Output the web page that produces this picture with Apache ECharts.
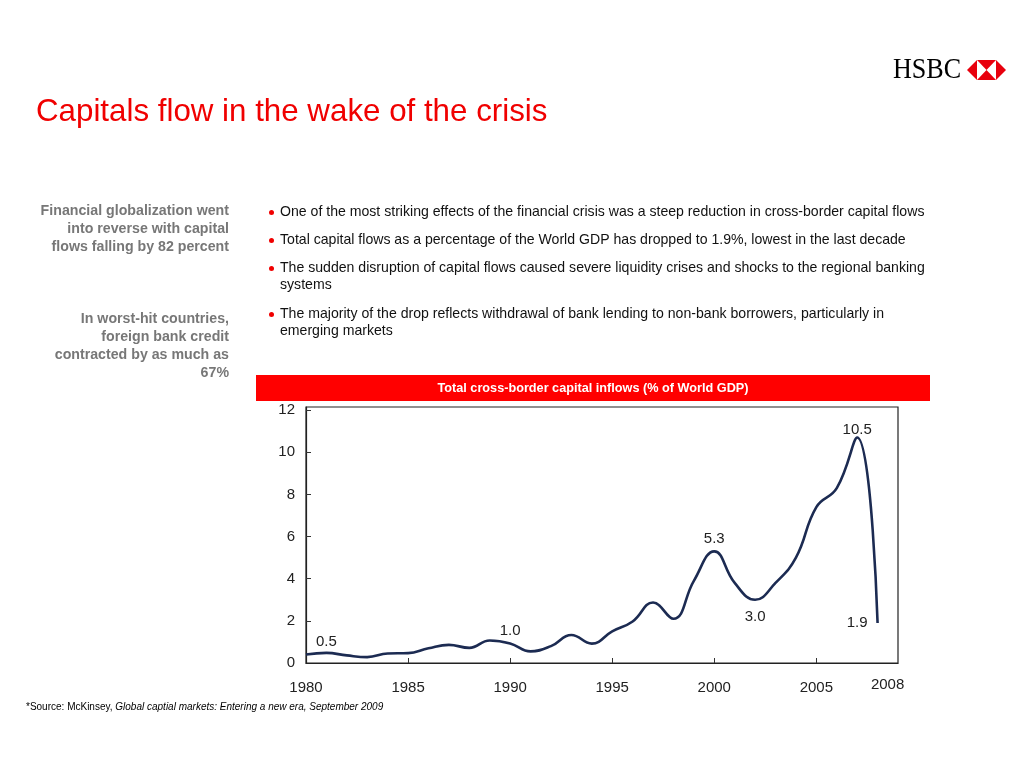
<!DOCTYPE html>
<html>
<head>
<meta charset="utf-8">
<script src="https://cdn.jsdelivr.net/npm/echarts@6/dist/echarts.min.js"></script>
<style>
html,body{margin:0;padding:0;background:#fff;}
#c{width:1024px;height:768px;}
</style>
</head>
<body>
<div id="c"></div>
<script>
// ---- data ----
var years = [1980,1981,1982,1983,1984,1985,1986,1987,1988,1989,1990,1991,1992,1993,1994,1995,1996,1997,1998,1999,2000,2001,2002,2003,2004,2005,2006,2007,2008];
var inflows = [0.4,0.48,0.36,0.28,0.45,0.47,0.7,0.86,0.72,1.07,0.93,0.55,0.8,1.33,0.92,1.5,1.97,2.87,2.1,3.9,5.3,3.8,3.0,3.8,5.0,7.4,8.3,10.7,1.9];
var annotations = [
  {year:1981, text:'0.5', pos:'top', dist:3},
  {year:1990, text:'1.0', pos:'top', dist:4},
  {year:2000, text:'5.3', pos:'top', dist:4},
  {year:2002, text:'3.0', pos:'bottom', dist:9},
  {year:2007, text:'10.5', pos:'top', dist:-1},
  {year:2008, text:'1.9', pos:'left', dist:9}
];
var xLabelValues = [1980,1985,1990,1995,2000,2005,2008];
var xTickValues = [1985,1990,1995,2000,2005];
var yLabelValues = [0,2,4,6,8,10,12];
var yTickValues = [2,4,6,8,10,12];

var titleText = 'Capitals flow in the wake of the crisis';
var sideNotes = [
  'Financial globalization went\ninto reverse with capital\nflows falling by 82 percent',
  'In worst-hit countries,\nforeign bank credit\ncontracted by as much as\n67%'
];
var bullets = [
  'One of the most striking effects of the financial crisis was a steep reduction in cross-border capital flows',
  'Total capital flows as a percentage of the World GDP has dropped to 1.9%, lowest in the last decade',
  'The sudden disruption of capital flows caused severe liquidity crises and shocks to the regional banking\nsystems',
  'The majority of the drop reflects withdrawal of bank lending to non-bank borrowers, particularly in\nemerging markets'
];
var chartHeader = 'Total cross-border capital inflows (% of World GDP)';
var sourcePlain = '*Source: McKinsey, ';
var sourceItalic = 'Global captial markets: Entering a new era, September 2009';

// ---- build ----
var annMap = {};
annotations.forEach(function(a){annMap[a.year]=a;});
var seriesData = years.map(function(y,i){
  var item = {value:[y, inflows[i]]};
  var a = annMap[y];
  if (a) {
    item.label = {show:true, position:a.pos, distance:a.dist, formatter:a.text};
  }
  return item;
});

var SANS = '"Liberation Sans", Arial, sans-serif';
var bulletTops = [204, 232, 260, 306];
var graphics = [];

// HSBC logo
graphics.push({type:'text', x:893, y:70, scaleX:0.87, style:{text:'HSBC', font:'30px "Liberation Serif", "Times New Roman", serif', fill:'#000', verticalAlign:'middle'}});
var red = '#e8000d';
graphics.push({type:'polygon', shape:{points:[[967,70],[977,60],[977,80]]}, style:{fill:red}});
graphics.push({type:'polygon', shape:{points:[[1006,70],[996,60],[996,80]]}, style:{fill:red}});
graphics.push({type:'polygon', shape:{points:[[977,60],[996,60],[986.5,70]]}, style:{fill:red}});
graphics.push({type:'polygon', shape:{points:[[977,80],[996,80],[986.5,70]]}, style:{fill:red}});

// Title
graphics.push({type:'text', x:36, y:112, style:{text:titleText, font:'31.3px ' + SANS, fill:'#f00000', verticalAlign:'middle'}});

// Side notes
graphics.push({type:'text', x:229, y:202, style:{text:sideNotes[0], font:'bold 14.2px ' + SANS, fill:'#777777', align:'right', verticalAlign:'top', lineHeight:18}});
graphics.push({type:'text', x:229, y:310, style:{text:sideNotes[1], font:'bold 14.2px ' + SANS, fill:'#777777', align:'right', verticalAlign:'top', lineHeight:18}});

// Bullets
bullets.forEach(function(b,i){
  graphics.push({type:'circle', shape:{cx:271.5, cy:bulletTops[i]+8.5, r:2.5}, style:{fill:'#f00000'}});
  graphics.push({type:'text', x:280, y:bulletTops[i], style:{text:b, font:'14.1px ' + SANS, fill:'#111', verticalAlign:'top', lineHeight:17}});
});

// Chart header
graphics.push({type:'rect', shape:{x:256, y:375, width:674, height:26}, style:{fill:'#ff0000'}});
graphics.push({type:'text', x:593, y:388, style:{text:chartHeader, font:'bold 12.7px ' + SANS, fill:'#fff', align:'center', verticalAlign:'middle'}});

// Source
graphics.push({type:'text', x:26, y:707, style:{
  text:'{n|' + sourcePlain + '}{i|' + sourceItalic + '}',
  verticalAlign:'middle',
  rich:{
    n:{font:'10px ' + SANS, fill:'#000'},
    i:{font:'italic 10px ' + SANS, fill:'#000'}
  }
}});

var chart = echarts.init(document.getElementById('c'), null, {renderer:'canvas'});
chart.setOption({
  backgroundColor:'#fff',
  animation:false,
  grid:{left:306, top:407, right:126, bottom:105, show:true, borderColor:'#222', borderWidth:1.2, backgroundColor:'transparent'},
  xAxis:{
    type:'value', min:1980, max:2009,
    axisLine:{show:true, lineStyle:{color:'#222', width:1.2}},
    axisTick:{show:true, inside:true, length:5, customValues:xTickValues, lineStyle:{color:'#333'}},
    splitLine:{show:false},
    axisLabel:{
      customValues:xLabelValues, margin:17, color:'#222', fontSize:15, fontFamily:SANS,
      formatter:function(v){ return v===2008 ? '{e|' + v + '}' : String(v); },
      rich:{e:{fontSize:15, fontFamily:SANS, color:'#222', lineHeight:9, padding:[0,0,0,20]}}
    }
  },
  yAxis:{
    type:'value', min:0, max:12.15,
    axisLine:{show:true, lineStyle:{color:'#222', width:1.2}},
    axisTick:{show:true, inside:true, length:5, customValues:yTickValues, lineStyle:{color:'#333'}},
    splitLine:{show:false},
    axisLabel:{customValues:yLabelValues, margin:11, color:'#222', fontSize:15, fontFamily:SANS}
  },
  series:[{
    type:'line',
    data:seriesData,
    smooth:0.45,
    symbol:'circle',
    symbolSize:1,
    showSymbol:true,
    itemStyle:{color:'transparent', borderColor:'transparent'},
    lineStyle:{color:'#1c2b52', width:2.6},
    label:{show:false, color:'#222', fontSize:15, fontFamily:SANS},
    labelLayout:{hideOverlap:false},
    emphasis:{disabled:true}
  }],
  graphic:graphics
});
</script>
</body>
</html>
